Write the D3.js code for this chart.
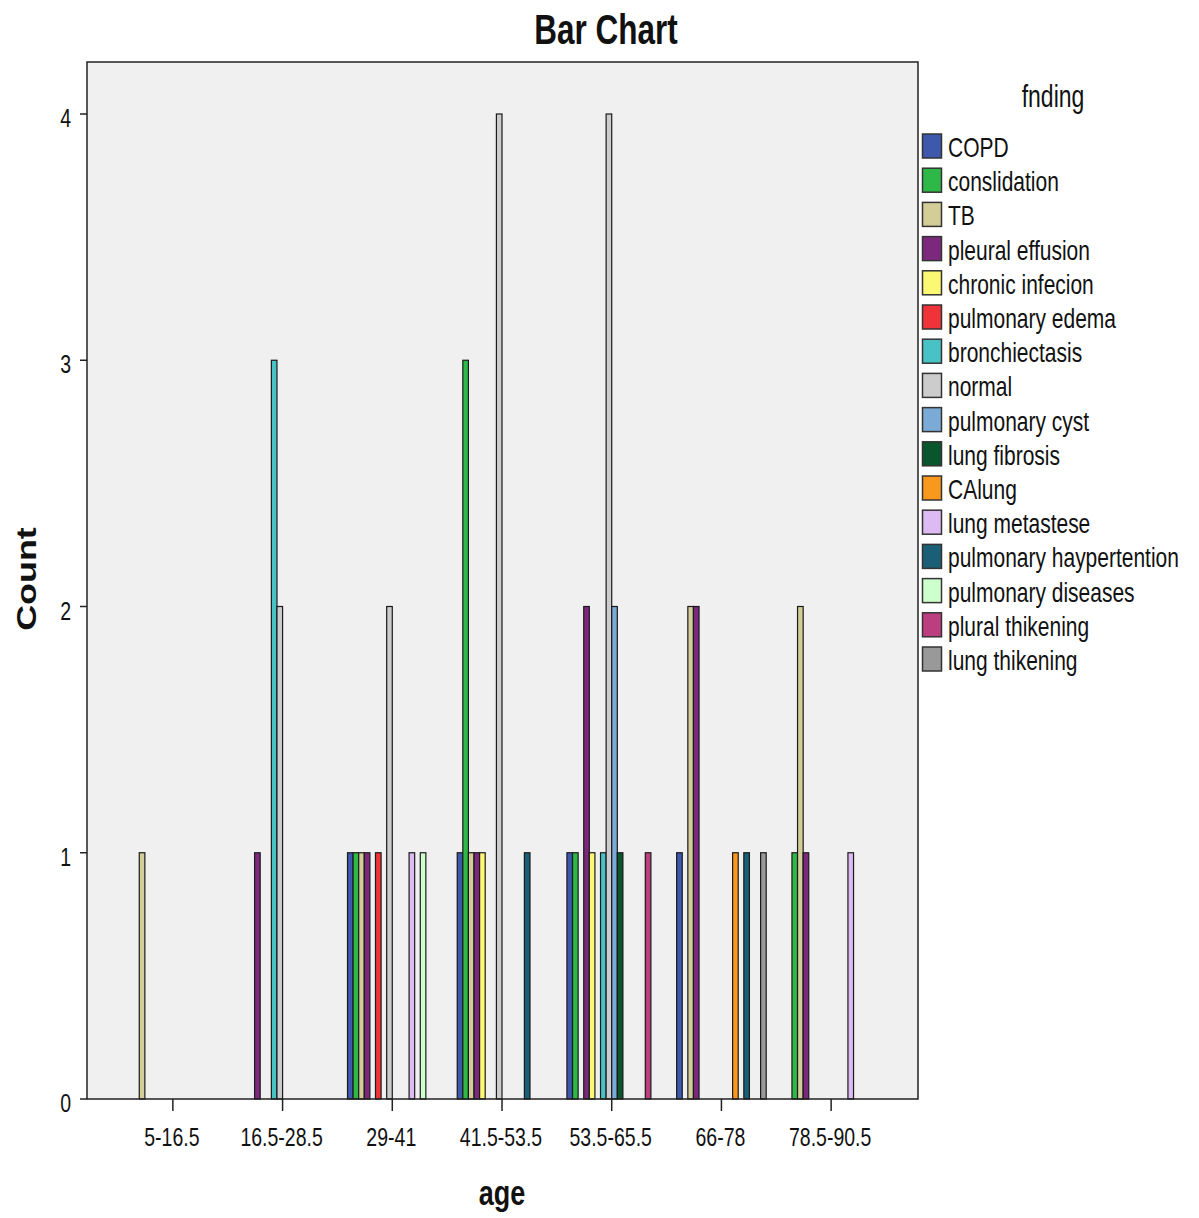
<!DOCTYPE html>
<html>
<head>
<meta charset="utf-8">
<script src="https://cdn.jsdelivr.net/npm/d3@7"></script>
<style>
  html, body { margin: 0; padding: 0; background: #ffffff; }
  svg { display: block; }
  text { font-family: "Liberation Sans", Arial, sans-serif; fill: #111; }
</style>
</head>
<body>
<div id="chart"></div>
<script>
// ---------------- DATA ----------------
const ageGroups = ["5-16.5", "16.5-28.5", "29-41", "41.5-53.5", "53.5-65.5", "66-78", "78.5-90.5"];
const findings = ["COPD", "conslidation", "TB", "pleural effusion", "chronic infecion",
  "pulmonary edema", "bronchiectasis", "normal", "pulmonary cyst", "lung fibrosis",
  "CAlung", "lung metastese", "pulmonary haypertention", "pulmonary diseases",
  "plural thikening", "lung thikening"];

// counts per age group, one array per finding
const copd                 = [0, 0, 1, 1, 1, 1, 0];
const conslidation         = [0, 0, 1, 3, 1, 0, 1];
const tb                   = [1, 0, 1, 1, 0, 2, 2];
const pleuralEffusion      = [0, 1, 1, 1, 2, 2, 1];
const chronicInfecion      = [0, 0, 0, 1, 1, 0, 0];
const pulmonaryEdema       = [0, 0, 1, 0, 0, 0, 0];
const bronchiectasis       = [0, 3, 0, 0, 1, 0, 0];
const normal               = [0, 2, 2, 4, 4, 0, 0];
const pulmonaryCyst        = [0, 0, 0, 0, 2, 0, 0];
const lungFibrosis         = [0, 0, 0, 0, 1, 0, 0];
const caLung               = [0, 0, 0, 0, 0, 1, 0];
const lungMetastese        = [0, 0, 1, 0, 0, 0, 1];
const pulmonaryHaypertention = [0, 0, 0, 1, 0, 1, 0];
const pulmonaryDiseases    = [0, 0, 1, 0, 0, 0, 0];
const pluralThikening      = [0, 0, 0, 0, 1, 0, 0];
const lungThikening        = [0, 0, 0, 0, 0, 1, 0];

const yTicks = [0, 1, 2, 3, 4];

// ---------------- STYLE ----------------
const colors = ["#3E58AC", "#2EB848", "#D3CE97", "#7C287D", "#FBF873", "#EF3338",
  "#48C2C5", "#CCCCCC", "#7AAAD5", "#0A562C", "#F8981D", "#DDBAF1",
  "#1A5F76", "#CCFFCC", "#BB3F7F", "#999999"];

const seriesValues = [copd, conslidation, tb, pleuralEffusion, chronicInfecion,
  pulmonaryEdema, bronchiectasis, normal, pulmonaryCyst, lungFibrosis, caLung,
  lungMetastese, pulmonaryHaypertention, pulmonaryDiseases, pluralThikening, lungThikening];

const table = [];
findings.forEach((f, si) => {
  ageGroups.forEach((a, gi) => {
    table.push({ finding: f, age: a, value: seriesValues[si][gi] });
  });
});

const W = 1199, H = 1218;
const SY = 1.33; // vertical text stretch of the original picture
const plot = { left: 87, right: 918, top: 62, bottom: 1099 };

const svg = d3.select("#chart").append("svg").attr("width", W).attr("height", H);

function txt(x, y, str, size, weight, anchor, rotate) {
  return svg.append("text")
    .attr("transform", `translate(${x},${y}) scale(1,${SY})${rotate ? " rotate(-90)" : ""}`)
    .attr("font-size", size)
    .attr("font-weight", weight || "normal")
    .attr("text-anchor", anchor || "start")
    .text(str);
}

// scales
const x0 = d3.scaleBand().domain(ageGroups).range([118, 886]).paddingInner(0).paddingOuter(0);
const x1 = d3.scaleBand().domain(findings).range([0, x0.bandwidth()]).paddingInner(0).paddingOuter(1.8);
const y = d3.scaleLinear().domain([0, (plot.bottom - plot.top) / 246.25]).range([plot.bottom, plot.top]);
const color = d3.scaleOrdinal().domain(findings).range(colors);

// plot background
svg.append("rect")
  .attr("x", plot.left).attr("y", plot.top)
  .attr("width", plot.right - plot.left).attr("height", plot.bottom - plot.top)
  .attr("fill", "#F0F0F0");

// bars
svg.append("g").selectAll("rect")
  .data(table.filter(d => d.value > 0))
  .join("rect")
  .attr("x", d => x0(d.age) + x1(d.finding))
  .attr("y", d => y(d.value))
  .attr("width", x1.bandwidth())
  .attr("height", d => y(0) - y(d.value))
  .attr("fill", d => color(d.finding))
  .attr("stroke", "#1a1a1a")
  .attr("stroke-width", 1.2);

// plot frame
svg.append("rect")
  .attr("x", plot.left).attr("y", plot.top)
  .attr("width", plot.right - plot.left).attr("height", plot.bottom - plot.top)
  .attr("fill", "none").attr("stroke", "#222").attr("stroke-width", 1.5);

// y axis ticks
const yAxisG = svg.append("g");
yTicks.forEach(t => {
  yAxisG.append("line")
    .attr("x1", 80).attr("x2", plot.left)
    .attr("y1", y(t)).attr("y2", y(t))
    .attr("stroke", "#222").attr("stroke-width", 1.5);
  txt(71, y(t) + 13, d3.format("d")(t), 19.5, "normal", "end");
});

// x axis ticks
ageGroups.forEach(a => {
  const cx = x0(a) + x0.bandwidth() / 2;
  svg.append("line")
    .attr("x1", cx).attr("x2", cx)
    .attr("y1", plot.bottom).attr("y2", plot.bottom + 12)
    .attr("stroke", "#222").attr("stroke-width", 1.5);
  txt(cx - 1, 1146, a, 19.5, "normal", "middle");
});

// titles
txt(606, 44, "Bar Chart", 31.5, "bold", "middle");
txt(502, 1205, "age", 27, "bold", "middle");
txt(36, 579, "Count", 27, "bold", "middle", true);

// legend
txt(1053, 107, "fnding", 23, "normal", "middle");
findings.forEach((f, i) => {
  const top = 134 + i * 34.2;
  svg.append("rect")
    .attr("x", 922.5).attr("y", top)
    .attr("width", 19).attr("height", 24)
    .attr("fill", color(f))
    .attr("stroke", "#333").attr("stroke-width", 1.5);
  txt(948, top + 23, f, 21, "normal", "start");
});
</script>
</body>
</html>
